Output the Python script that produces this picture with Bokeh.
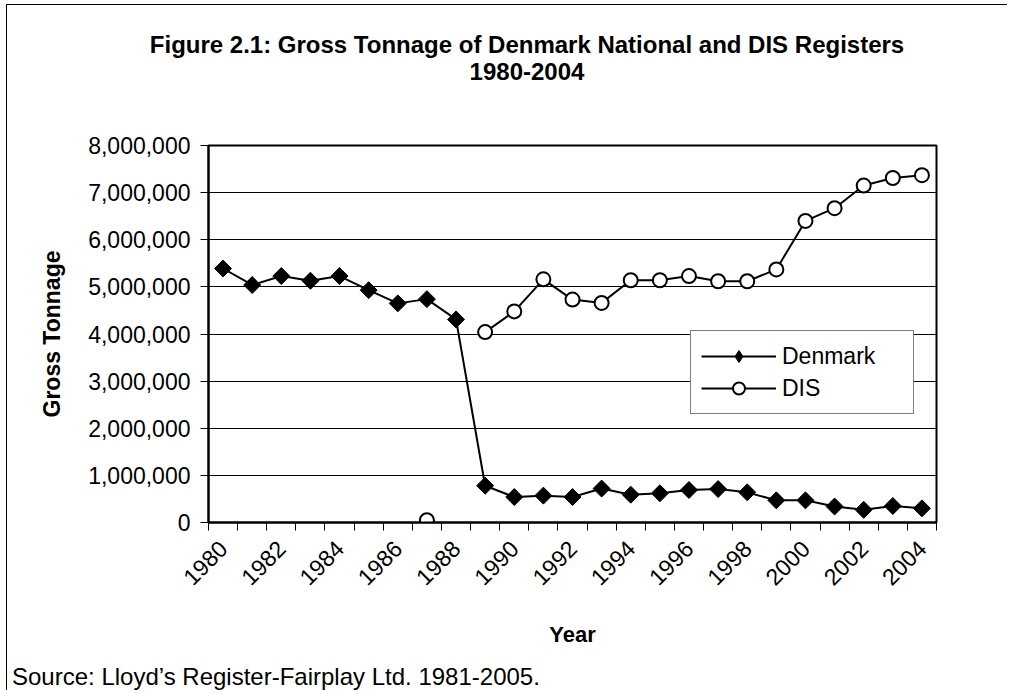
import math
from bokeh.plotting import figure
from bokeh.layouts import column
from bokeh.models import (FixedTicker, NumeralTickFormatter, Legend, LegendItem,
                          Range1d, Div)
from bokeh.embed import file_html
from bokeh.resources import INLINE

nan = float("nan")
years = list(range(1980, 2005))
denmark = [5390000, 5040000, 5230000, 5130000, 5230000, 4930000, 4650000, 4740000,
           4310000, 780000, 540000, 570000, 540000, 720000, 590000, 620000, 690000,
           710000, 640000, 470000, 470000, 340000, 270000, 350000, 300000]
dis = [nan, nan, nan, nan, nan, nan, nan, 50000, nan, 4040000, 4480000, 5160000,
       4730000, 4660000, 5140000, 5140000, 5230000, 5120000, 5120000, 5370000,
       6400000, 6670000, 7150000, 7310000, 7370000]
label_years = list(range(1980, 2005, 2))
y_ticks = [0, 1000000, 2000000, 3000000, 4000000, 5000000, 6000000, 7000000, 8000000]

FONT = "Liberation Sans"

title_div = Div(
    text=("<div style=\"width:1000px;box-sizing:border-box;padding-top:26px;"
          "padding-left:40px;text-align:center;"
          "font-family:'Liberation Sans';font-size:24px;font-weight:bold;"
          "line-height:27px;color:#000;\">"
          "Figure 2.1: Gross Tonnage of Denmark National and DIS Registers<br>"
          "1980-2004</div>"),
    width=1000, height=128, margin=0)

p = figure(width=1000, height=531, title=None,
           x_range=Range1d(years[0] - 0.5, years[-1] + 0.5),
           y_range=Range1d(0, 8000000),
           output_backend="svg", toolbar_location=None,
           min_border_left=201, min_border_right=71,
           min_border_top=12, min_border_bottom=142)

p.outline_line_color = "black"
p.outline_line_width = 2
p.background_fill_color = "white"
p.border_fill_color = "white"

# x axis: category boundaries as (minor) tick marks, labels at even years
xa = p.xaxis[0]
boundaries = [y - 0.5 for y in years] + [years[-1] + 0.5]
xa.ticker = FixedTicker(ticks=label_years, minor_ticks=boundaries)
xa.major_tick_out = 0
xa.major_tick_in = 0
xa.minor_tick_out = 8
xa.minor_tick_in = 0
xa.minor_tick_line_color = "black"
xa.minor_tick_line_width = 1
xa.axis_line_color = "black"
xa.axis_line_width = 2
xa.major_label_orientation = math.pi / 4
xa.major_label_text_font = FONT
xa.major_label_text_font_size = "23px"
xa.major_label_text_color = "black"
xa.major_label_standoff = 14
xa.axis_label = "Year"
xa.axis_label_text_font = FONT
xa.axis_label_text_font_size = "22px"
xa.axis_label_text_font_style = "bold"
xa.axis_label_text_color = "black"
xa.axis_label_standoff = 26

ya = p.yaxis[0]
ya.ticker = FixedTicker(ticks=y_ticks)
ya.formatter = NumeralTickFormatter(format="0,0")
ya.major_tick_out = 8
ya.major_tick_in = 0
ya.minor_tick_out = 0
ya.minor_tick_in = 0
ya.major_tick_line_color = "black"
ya.axis_line_color = "black"
ya.axis_line_width = 2
ya.major_label_text_font = FONT
ya.major_label_text_font_size = "23px"
ya.major_label_text_color = "black"
ya.major_label_standoff = 10
ya.axis_label = "Gross Tonnage"
ya.axis_label_text_font = FONT
ya.axis_label_text_font_size = "23px"
ya.axis_label_text_font_style = "bold"
ya.axis_label_text_color = "black"
ya.axis_label_standoff = 20

p.xgrid.grid_line_color = None
p.ygrid.grid_line_color = "black"
p.ygrid.grid_line_width = 1

dl = p.line(years, denmark, line_color="black", line_width=2)
ds = p.scatter(years, denmark, marker="square", size=12, angle=math.pi / 4,
               fill_color="black", line_color="black")
il = p.line(years, dis, line_color="black", line_width=2)
iS = p.scatter(years, dis, marker="circle", size=14, fill_color="white",
               line_color="black", line_width=2)
# legend-only diamond (the legend ignores marker angle); no drawable point
legend_diamond = p.scatter([nan], [nan], marker="diamond", size=12,
                           fill_color="black", line_color="black")

legend = Legend(items=[LegendItem(label="Denmark", renderers=[dl, legend_diamond]),
                       LegendItem(label="DIS", renderers=[il, iS])],
                location=(482, 108))
legend.border_line_color = "black"
legend.border_line_width = 1
legend.background_fill_color = "white"
legend.background_fill_alpha = 1
legend.label_text_font = FONT
legend.label_text_font_size = "23px"
legend.label_text_color = "black"
legend.padding = 10
legend.margin = 0
legend.spacing = 2
legend.glyph_width = 75
legend.glyph_height = 30
legend.label_height = 30
legend.label_standoff = 6
legend.label_width = 121
p.add_layout(legend)

source_div = Div(
    text=("<div style=\"padding-left:5px;font-family:'Liberation Sans';"
          "font-size:24px;line-height:26px;color:#000;white-space:nowrap;\">"
          "Source: Lloyd\u2019s Register-Fairplay Ltd. 1981-2005.</div>"),
    width=1000, height=26, margin=0)

page = column(title_div, p, source_div, spacing=0)
page.styles = {"border-left": "1px solid #000", "border-top": "1px solid #000",
               "margin-left": "6px", "margin-top": "4px"}

open("out.html", "w").write(file_html(page, INLINE))
